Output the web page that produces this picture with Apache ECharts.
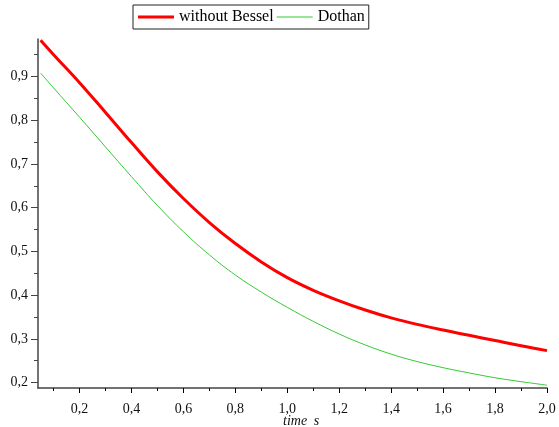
<!DOCTYPE html>
<html><head><meta charset="utf-8">
<script src="https://cdn.jsdelivr.net/npm/echarts@6/dist/echarts.min.js"></script>
<style>html,body{margin:0;padding:0;background:#fff}#c{width:559px;height:427px}</style>
</head><body><div id="c"></div>
<script>
const timeValues = [0.05,0.1,0.2,0.3,0.4,0.5,0.6,0.7,0.8,0.9,1.0,1.1,1.2,1.3,1.4,1.5,1.6,1.7,1.8,1.9,2.0];
const withoutBessel = [0.983,0.950,0.886,0.818,0.749,0.682,0.621,0.566,0.518,0.476,0.440,0.411,0.387,0.366,0.348,0.333,0.320,0.308,0.296,0.284,0.273];
const dothan = [0.908,0.874,0.807,0.739,0.671,0.605,0.545,0.492,0.446,0.407,0.372,0.340,0.311,0.286,0.265,0.248,0.234,0.222,0.211,0.202,0.194];
const xMajorTicks = [0.2,0.4,0.6,0.8,1.0,1.2,1.4,1.6,1.8,2.0];
const xMinorTicks = [0.1,0.3,0.5,0.7,0.9,1.1,1.3,1.5,1.7,1.9];
const yMajorTicks = [0.2,0.3,0.4,0.5,0.6,0.7,0.8,0.9];
const yMinorTicks = [0.25,0.35,0.45,0.55,0.65,0.75,0.85,0.95];
const seriesNames = ['without Bessel','Dothan'];

const font = '"Liberation Serif","Times New Roman",serif';
const fmt = v => v.toFixed(1).replace('.', ',');
const X0 = 0.04, X1 = 2.0, Y0 = 0.1875, Y1 = 0.986;
const axisColor = '#444';

const chart = echarts.init(document.getElementById('c'));
chart.setOption({
  animation: false,
  backgroundColor: '#fff',
  grid: {left: 38, right: 12, top: 39, bottom: 39, containLabel: false},
  legend: {
    left: 133, top: 5,
    padding: [4, 4, 4, 5],
    borderColor: '#222', borderWidth: 1,
    itemWidth: 36, itemHeight: 17, itemGap: 3,
    symbolKeepAspect: true,
    textStyle: {fontFamily: font, fontSize: 16, color: '#000'},
    data: [
      {name: seriesNames[0], icon: 'path://M0,0H36V3H0Z'},
      {name: seriesNames[1], icon: 'path://M0,0H36V1H0Z'}
    ]
  },
  xAxis: [{
    type: 'value', min: X0, max: X1,
    axisLine: {lineStyle: {color: axisColor, width: 1.5}},
    axisTick: {show: true, inside: false, length: 5, customValues: xMajorTicks, lineStyle: {color: '#000'}},
    axisLabel: {customValues: xMajorTicks, formatter: fmt, fontFamily: font, fontSize: 14, color: '#111', margin: 14},
    splitLine: {show: false}
  }, {
    type: 'value', min: X0, max: X1, position: 'bottom',
    axisLine: {show: false},
    axisTick: {show: true, length: 3, customValues: xMinorTicks, lineStyle: {color: '#000'}},
    axisLabel: {show: false},
    splitLine: {show: false}
  }],
  yAxis: [{
    type: 'value', min: Y0, max: Y1,
    axisLine: {show: true, lineStyle: {color: axisColor, width: 1.5}},
    axisTick: {show: true, length: 7, customValues: yMajorTicks, lineStyle: {color: axisColor}},
    axisLabel: {customValues: yMajorTicks, formatter: fmt, fontFamily: font, fontSize: 14, color: '#111', margin: 10},
    splitLine: {show: false}
  }, {
    type: 'value', min: Y0, max: Y1, position: 'left',
    axisLine: {show: false},
    axisTick: {show: true, length: 4, customValues: yMinorTicks, lineStyle: {color: axisColor}},
    axisLabel: {show: false},
    splitLine: {show: false}
  }],
  graphic: [{
    type: 'text', left: 283, top: 414,
    style: {
      text: '{i|time}  {i|s}',
      rich: {i: {fontFamily: font, fontStyle: 'italic', fontSize: 14, fill: '#111'}}
    }
  }],
  series: [{
    name: seriesNames[0], type: 'line', smooth: 0.4, symbol: 'none',
    xAxisIndex: 0, yAxisIndex: 0,
    lineStyle: {color: '#ff0000', width: 3}, itemStyle: {color: '#ff0000'},
    data: timeValues.map((t, i) => [t, withoutBessel[i]])
  }, {
    name: seriesNames[1], type: 'line', smooth: 0.4, symbol: 'none',
    xAxisIndex: 0, yAxisIndex: 0,
    lineStyle: {color: '#33cc33', width: 1}, itemStyle: {color: '#33cc33'},
    data: timeValues.map((t, i) => [t, dothan[i]])
  }]
});
</script></body></html>
